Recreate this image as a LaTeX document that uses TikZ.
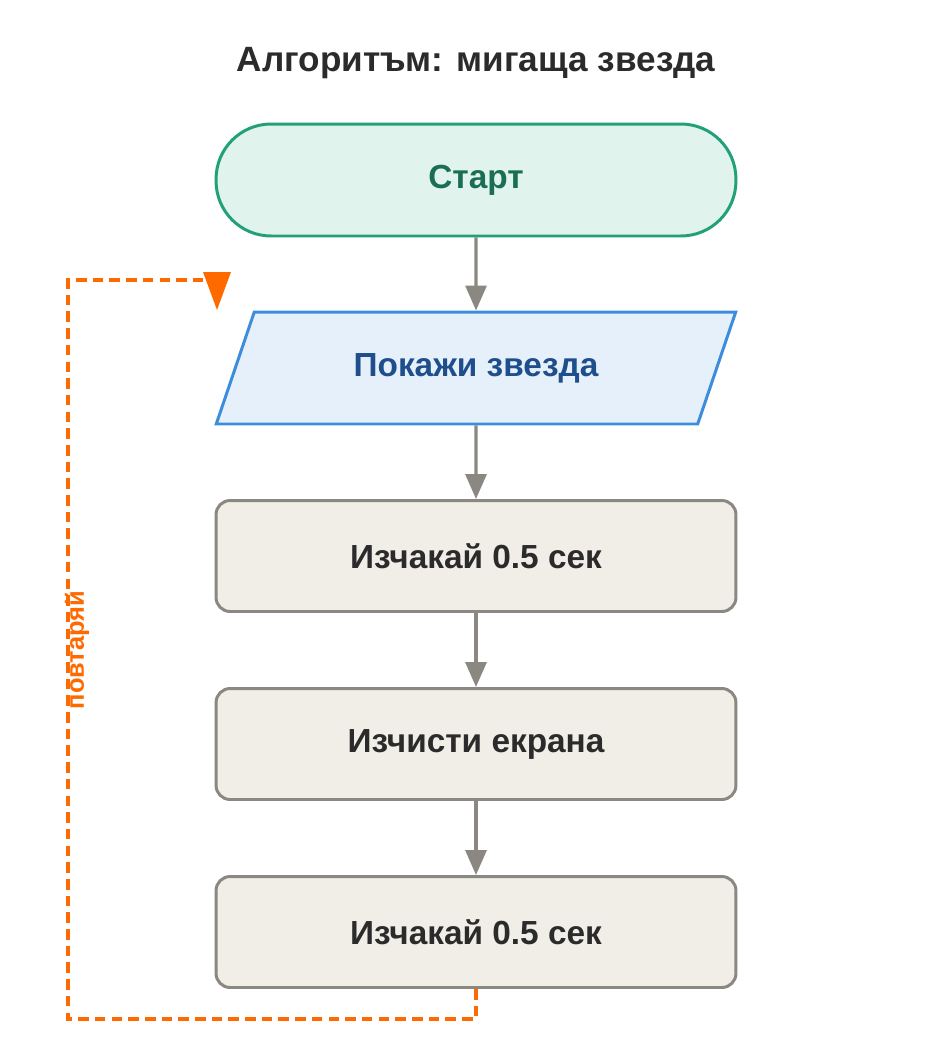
\documentclass[tikz,border=0pt]{standalone}
\usepackage{fontspec}
\setmainfont{Liberation Sans}
\usetikzlibrary{shapes.geometric,arrows.meta}
\definecolor{startfill}{HTML}{E0F3EC}
\definecolor{startline}{HTML}{22A07A}
\definecolor{starttext}{HTML}{1A6E55}
\definecolor{iofill}{HTML}{E6F0FA}
\definecolor{ioline}{HTML}{3C8DDC}
\definecolor{iotext}{HTML}{1F4E8C}
\definecolor{stepfill}{HTML}{F1EEE7}
\definecolor{stepline}{HTML}{8A8880}
\definecolor{steptext}{HTML}{2B2B2B}
\definecolor{loopcol}{HTML}{FF6A00}
\tikzset{
  every node/.style={font=\fontsize{19pt}{22pt}\selectfont\bfseries},
  action/.style={draw=stepline, fill=stepfill, line width=1.7pt, rounded corners=8pt,
    minimum width=10.4cm, minimum height=2.22cm, text=steptext},
  flow/.style={draw=stepline, line width=1.8pt, -{Triangle[length=0.5cm,width=0.42cm]}},
  loop/.style={draw=loopcol, line width=2pt, dash pattern=on 6pt off 3.5pt}}
\begin{document}
\begin{tikzpicture}[x=0.02cm,y=-0.02cm]
\useasboundingbox (0,0) rectangle (952,1052);
\node (title) [text=steptext, font=\fontsize{20pt}{24pt}\selectfont\bfseries] at (476,63) {Алгоритъм: мигаща звезда};
\node (start) [draw=startline, fill=startfill, line width=1.7pt, rounded corners=1.1cm,
  minimum width=10.4cm, minimum height=2.24cm, text=starttext] at (476,180) {Старт};
\node (show) [trapezium, trapezium stretches=true, trapezium left angle=62, trapezium right angle=118,
  draw=ioline, fill=iofill, line width=1.7pt, minimum width=10.4cm, minimum height=2.24cm,
  text=iotext] at (476,368) {Покажи звезда};
\node (wait1) [action] at (476,556) {Изчакай 0.5 сек};
\node (clear) [action] at (476,744) {Изчисти екрана};
\node (wait2) [action] at (476,932) {Изчакай 0.5 сек};
\draw [flow] (start) -- (show);
\draw [flow] (show) -- (wait1);
\draw [flow] (wait1) -- (clear);
\draw [flow] (clear) -- (wait2);
% loop back
\coordinate (back) at (203,280);
\draw [loop] (wait2.south) -- (476,1019) -- (68,1019) -- (68,280) -- (back);
\fill [loopcol] (203,272) -- (231,272) -- (217,310) -- cycle;
\node (rep) [rotate=90, text=loopcol, font=\fontsize{14.5pt}{16pt}\selectfont\bfseries] at (77,650) {повтаряй};
\end{tikzpicture}
\end{document}
